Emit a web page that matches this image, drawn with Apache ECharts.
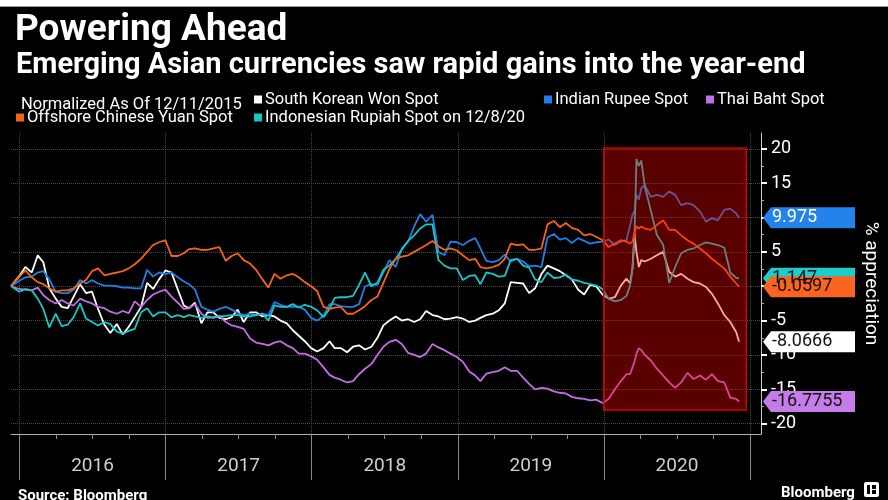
<!DOCTYPE html>
<html>
<head>
<meta charset="utf-8">
<script src="https://cdn.jsdelivr.net/npm/echarts@6/dist/echarts.min.js"></script>
<style>
html, body { margin: 0; padding: 0; background: #000; }
#chart { width: 888px; height: 500px; }
</style>
</head>
<body>
<div id="chart"></div>
<script>
// sample dates (semi-monthly, a few extra in March 2020)
var dates = ['2015-12-11',
	'2016-01-01','2016-01-16','2016-02-01','2016-02-16','2016-03-01','2016-03-16','2016-04-01','2016-04-16','2016-05-01','2016-05-16','2016-06-01','2016-06-16',
	'2016-07-01','2016-07-16','2016-08-01','2016-08-16','2016-09-01','2016-09-16','2016-10-01','2016-10-16','2016-11-01','2016-11-16','2016-12-01','2016-12-16',
	'2017-01-01','2017-01-16','2017-02-01','2017-02-16','2017-03-01','2017-03-16','2017-04-01','2017-04-16','2017-05-01','2017-05-16','2017-06-01','2017-06-16',
	'2017-07-01','2017-07-16','2017-08-01','2017-08-16','2017-09-01','2017-09-16','2017-10-01','2017-10-16','2017-11-01','2017-11-16','2017-12-01','2017-12-16',
	'2018-01-01','2018-01-16','2018-02-01','2018-02-16','2018-03-01','2018-03-16','2018-04-01','2018-04-16','2018-05-01','2018-05-16','2018-06-01','2018-06-16',
	'2018-07-01','2018-07-16','2018-08-01','2018-08-16','2018-09-01','2018-09-16','2018-10-01','2018-10-16','2018-11-01','2018-11-16','2018-12-01','2018-12-16',
	'2019-01-01','2019-01-16','2019-02-01','2019-02-16','2019-03-01','2019-03-16','2019-04-01','2019-04-16','2019-05-01','2019-05-16','2019-06-01','2019-06-16',
	'2019-07-01','2019-07-16','2019-08-01','2019-08-16','2019-09-01','2019-09-16','2019-10-01','2019-10-16','2019-11-01','2019-11-16','2019-12-01','2019-12-16',
	'2020-01-01','2020-01-16','2020-02-01','2020-02-16','2020-03-01','2020-03-10','2020-03-16','2020-03-21','2020-03-26','2020-04-01','2020-04-07','2020-04-16',
	'2020-05-01','2020-05-16','2020-06-01','2020-06-16','2020-07-01','2020-07-16','2020-08-01','2020-08-16','2020-09-01','2020-09-16','2020-10-01','2020-10-16',
	'2020-11-01','2020-11-16','2020-12-01','2020-12-08'];

var wonSpot = [0,
	1.5, 2.8, 2.0, 4.5, 3.5, -0.3, -1.8, -3.0, -3.2, -1.5, 0.3, -1.0, -0.8, -3.3, -5.6, -6.8, -5.5, -7.0, -5.9, -4.5, -3.0, 0.5, -0.4, 1.0,
	2.3, 2.0, -0.5, -2.8, -3.2, -2.4, -5.4, -3.8, -3.8, -4.6, -4.8, -4.5, -3.4, -5.2, -3.8, -3.8, -4.4, -4.2, -4.4, -5.0, -5.4, -6.4, -7.2, -8.0,
	-9.0, -9.5, -9.0, -8.0, -9.0, -9.0, -9.6, -8.8, -8.6, -9.2, -8.8, -7.5, -5.7, -5.0, -4.4, -5.0, -4.8, -5.2, -4.8, -3.6, -4.2, -4.4, -4.8, -4.7,
	-4.5, -4.7, -5.2, -5.0, -4.6, -4.2, -4.0, -3.5, -2.5, 0.6, 0.5, 0.4, -1.0, -0.3, 1.8, 3.0, 2.6, 2.2, 1.6, 1.0, -0.5, -1.2, 0.2, 0.0,
	-1.2, -1.8, -1.6, 0.1, 1.1, 0.4, 2.6, 7.7, 5.0, 2.8, 3.8, 3.6, 4.0, 4.5, 5.0, 2.1, 1.4, 1.8, 1.1, 0.6, 0.4, -0.1, -1.1, -2.5, -4.2, -5.2, -6.7, -8.0666];

var rupeeSpot = [0,
	0.8, 1.3, 1.4, 2.0, 2.2, 1.0, -0.8, -1.0, -1.0, -0.5, 0.9, 0.4, 0.9, 0.4, 0.1, 0.1, 0.0, -0.2, -0.2, -0.3, -0.3, 2.4, 1.4, 2.0,
	1.8, 2.0, 1.3, 0.7, 0.3, -0.5, -3.0, -3.4, -3.7, -3.3, -3.0, -3.4, -3.9, -4.2, -4.0, -4.2, -4.0, -4.2, -2.3, -2.7, -3.0, -3.0, -3.0, -3.4,
	-4.6, -5.0, -4.3, -2.6, -2.6, -2.9, -3.0, -3.0, -2.6, 0.0, 0.3, 0.2, 2.0, 3.8, 2.8, 5.5, 6.5, 8.7, 10.5, 9.4, 10.4, 5.0, 4.5, 6.5,
	6.4, 6.0, 6.6, 7.0, 5.5, 3.7, 3.5, 3.8, 4.6, 3.6, 4.0, 3.6, 2.9, 3.0, 2.8, 7.1, 7.6, 6.8, 7.0, 6.3, 7.0, 6.6, 6.2, 6.4,
	6.5, 6.8, 6.0, 6.5, 6.7, 8.9, 10.4, 10.9, 13.3, 12.6, 14.3, 14.7, 13.0, 13.3, 13.0, 13.8, 13.3, 11.8, 12.1, 11.8, 10.9, 9.4, 9.9, 9.6, 11.1, 11.3, 10.6, 9.975];

var bahtSpot = [0,
	-0.4, -0.5, -0.6, -0.2, -1.3, -2.0, -2.5, -2.0, -2.5, -2.8, -1.8, -2.2, -2.5, -3.0, -3.2, -3.7, -4.0, -3.6, -3.9, -2.2, -3.0, -2.0, -1.2, -0.8,
	-0.5, -1.5, -2.4, -3.3, -3.2, -2.6, -4.0, -4.6, -4.5, -4.3, -5.2, -5.7, -5.9, -6.2, -7.6, -8.2, -8.4, -8.6, -8.2, -8.0, -8.6, -9.0, -9.8, -9.8,
	-10.2, -10.7, -11.8, -12.9, -13.3, -13.6, -14.0, -13.8, -12.8, -12.0, -11.3, -10.0, -8.8, -8.1, -7.8, -8.4, -9.7, -10.0, -10.3, -9.8, -8.4, -8.9, -9.3, -9.8,
	-10.3, -11.0, -12.4, -13.0, -13.8, -12.7, -12.5, -12.3, -11.8, -12.3, -12.3, -13.3, -14.2, -15.0, -14.8, -14.9, -15.3, -15.5, -15.6, -16.1, -16.3, -16.4, -16.6, -16.5,
	-17.0, -16.4, -15.0, -13.8, -12.8, -12.8, -11.8, -11.0, -9.8, -9.0, -9.3, -10.0, -10.8, -12.0, -13.0, -14.0, -14.8, -14.0, -12.6, -13.5, -13.0, -13.6, -12.8, -13.8, -14.0, -16.2, -16.4, -16.7755];

var rupiahSpot = [0,
	-0.8, -0.4, -0.6, -1.8, -3.3, -6.0, -4.0, -5.8, -5.6, -4.5, -2.5, -4.7, -5.2, -5.7, -5.2, -5.5, -6.6, -6.9, -6.5, -6.2, -3.8, -3.2, -4.4, -3.8,
	-3.8, -4.5, -4.2, -4.5, -4.2, -4.4, -4.6, -4.4, -4.6, -4.4, -4.3, -4.2, -4.2, -4.4, -4.4, -4.2, -4.0, -5.0, -2.8, -3.0, -3.0, -2.6, -3.1, -2.7,
	-3.0, -3.5, -4.5, -3.3, -1.7, -1.6, -1.6, -1.4, 0.2, 2.0, 0.0, 0.5, 2.4, 3.0, 4.0, 5.3, 6.6, 7.4, 8.4, 9.0, 9.0, 3.8, 3.0, 2.6,
	2.6, 0.9, 1.5, 1.6, 0.3, 2.0, 1.8, 1.4, 1.5, 3.8, 4.0, 3.0, 2.7, 1.0, 0.6, 2.0, 1.2, 1.3, 1.7, 1.0, 0.8, 0.5, 0.3, 0.1,
	-0.4, -1.8, -2.2, -2.0, -1.4, 0.1, 2.5, 7.0, 18.5, 17.5, 18.3, 14.5, 11.0, 7.5, 6.0, 0.5, 2.8, 4.8, 5.3, 5.5, 6.0, 6.4, 6.2, 6.0, 5.6, 2.0, 1.2, 1.147];

var yuanSpot = [0,
	1.4, 2.3, 1.3, 0.6, 0.3, -0.3, -0.8, -0.6, -0.6, -0.3, 0.4, 0.9, 2.2, 2.6, 1.6, 1.8, 2.0, 2.2, 2.6, 3.2, 4.0, 5.0, 6.0, 6.4,
	6.7, 4.4, 4.4, 4.8, 5.4, 5.5, 5.3, 5.3, 5.5, 5.7, 3.7, 4.4, 4.8, 3.8, 3.3, 2.4, 1.0, -0.2, 1.8, 1.1, 1.6, 1.8, 1.3, 0.6,
	0.0, -0.7, -3.0, -3.3, -3.1, -3.0, -4.0, -4.0, -3.5, -2.9, -2.0, -1.5, 0.5, 2.5, 4.0, 4.3, 4.5, 5.0, 5.5, 6.0, 6.6, 5.8, 5.3, 5.5,
	5.2, 4.5, 3.8, 4.0, 2.8, 2.6, 2.8, 3.1, 4.0, 6.2, 6.0, 6.1, 5.3, 5.3, 5.5, 9.0, 9.5, 8.6, 9.2, 8.5, 8.2, 7.4, 7.6, 7.2,
	6.7, 5.7, 6.2, 6.7, 6.5, 6.2, 6.5, 7.7, 8.7, 8.4, 8.7, 8.4, 8.2, 8.9, 9.6, 8.2, 8.2, 7.4, 6.7, 6.2, 5.5, 4.8, 4.0, 3.3, 2.6, 1.4, 0.4, -0.0597];

var years = ['2016', '2017', '2018', '2019', '2020'];
var quarters = [];
for (var q = 0; q < years.length * 4; q++) quarters.push(years[Math.floor(q / 4)] + 'Q' + (q % 4 + 1));
var yTicks = [-20, -15, -10, -5, 0, 5, 10, 15, 20];
var xMin = '2015-12-11', xMax = '2021-02-01';
var highlight = [['2020-01-04', -18], ['2020-12-26', 20.1]];

var FONT = 'Roboto, "Liberation Sans", sans-serif';

var seriesDefs = [
	{name: 'South Korean Won Spot', values: wonSpot, color: '#ffffff', tag: '#ffffff', text: '#111'},
	{name: 'Indian Rupee Spot', values: rupeeSpot, color: '#1f7fe6', tag: '#2483ea', text: '#fff'},
	{name: 'Thai Baht Spot', values: bahtSpot, color: '#c46ee6', tag: '#c47ce8', text: '#111'},
	{name: 'Indonesian Rupiah Spot on 12/8/20', values: rupiahSpot, color: '#19c6c6', tag: '#1fcccc', text: '#111'},
	{name: 'Offshore Chinese Yuan Spot', values: yuanSpot, color: '#f5631a', tag: '#fb641e', text: '#111'}
];

function buildSeries() {
	var out = [];
	seriesDefs.forEach(function (d) {
		var data = [];
		for (var i = 0; i < dates.length; i++) data.push([dates[i], d.values[i]]);
		var last = d.values[d.values.length - 1];
		out.push({
			name: d.name,
			type: 'line',
			xAxisIndex: 0,
			yAxisIndex: 0,
			data: data,
			showSymbol: false,
			animation: false,
			lineStyle: {color: d.color, width: 1.8},
			itemStyle: {color: d.color},
			markPoint: {
				silent: true,
				animation: false,
				symbol: 'path://M0,10 L8,0 L92,0 L92,20 L8,20 Z',
				symbolSize: [92, 21],
				symbolKeepAspect: false,
				symbolOffset: [48, 0],
				itemStyle: {color: d.tag},
				label: {
					show: true,
					position: 'insideLeft',
					distance: 9,
					color: d.text,
					fontSize: 18,
					fontFamily: FONT,
					formatter: '{c}'
				},
				data: [{coord: [xMax, last], value: last}]
			}
		});
	});
	// the shaded 2020 box sits above the lines
	out.push({
		name: 'box',
		type: 'line',
		data: [],
		markArea: {
			z: 10,
			silent: true,
			animation: false,
			itemStyle: {color: 'rgba(255,0,0,0.35)', borderColor: '#d00000', borderWidth: 1.5},
			data: [[{coord: highlight[0]}, {coord: highlight[1]}]]
		}
	});
	return out;
}

function legendAt(name, left, top) {
	return {
		data: [name], left: left, top: top, padding: 0,
		icon: 'rect', itemWidth: 8, itemHeight: 8, selectedMode: false,
		textStyle: {color: '#fff', fontSize: 16.5, fontFamily: FONT, padding: [0, 0, 0, -2]}
	};
}

var myChart = echarts.init(document.getElementById('chart'), null, {renderer: 'canvas'});
var option = {
	backgroundColor: '#000',
	animation: false,
	title: [
		{text: 'Powering Ahead', left: 10, top: 7, textStyle: {color: '#fff', fontSize: 37, fontWeight: 'bold', fontFamily: FONT}},
		{text: 'Emerging Asian currencies saw rapid gains into the year-end', left: 11, top: 46, textStyle: {color: '#fff', fontSize: 29, fontWeight: 'bold', fontFamily: FONT}},
		{text: 'Normalized As Of 12/11/2015', left: 16, top: 91, textStyle: {color: '#fff', fontSize: 16.5, fontWeight: 'normal', fontFamily: FONT}},
		{text: 'Source: Bloomberg', left: 13, top: 484, textStyle: {color: '#fff', fontSize: 15, fontWeight: 'bold', fontFamily: FONT}},
		{text: 'Bloomberg', left: 776, top: 481, textStyle: {color: '#fff', fontSize: 15, fontWeight: 'bold', fontFamily: FONT}}
	],
	legend: [
		legendAt('South Korean Won Spot', 254, 91),
		legendAt('Indian Rupee Spot', 544, 91),
		legendAt('Thai Baht Spot', 706, 91),
		legendAt('Offshore Chinese Yuan Spot', 16, 109),
		legendAt('Indonesian Rupiah Spot on 12/8/20', 254, 109)
	],
	grid: [
		{left: 11, right: 126, top: 133, bottom: 66},
		{left: 19.5, right: 138, top: 133, bottom: 66}
	],
	xAxis: [
		{
			type: 'time', gridIndex: 0, min: xMin, max: xMax,
			axisLine: {show: true, onZero: false, lineStyle: {color: '#b0b0b0', width: 1}},
			axisTick: {show: false}, axisLabel: {show: false}, splitLine: {show: false}
		},
		{
			type: 'category', gridIndex: 1, position: 'bottom', data: years, boundaryGap: true,
			axisLine: {show: false, onZero: false},
			axisTick: {show: true, interval: 0, length: 46, lineStyle: {color: '#8a8a8a'}},
			axisLabel: {show: true, interval: 0, margin: 23, color: '#d0d0d0', fontSize: 19, fontFamily: FONT},
			splitLine: {show: true, interval: 0, lineStyle: {color: '#4a4a4a', type: 'dotted'}}
		},
		{
			type: 'category', gridIndex: 1, position: 'bottom', data: quarters, boundaryGap: true,
			axisLine: {show: false, onZero: false},
			axisTick: {show: true, interval: 0, length: 5, lineStyle: {color: '#8a8a8a'}},
			axisLabel: {show: false}, splitLine: {show: false}
		}
	],
	yAxis: [
		{
			type: 'value', gridIndex: 0, position: 'right', min: -21.5, max: 22.3, splitNumber: 9,
			name: '% appreciation', nameLocation: 'middle', nameRotate: -90, nameGap: 100,
			nameTextStyle: {color: '#fff', fontSize: 19, fontFamily: FONT},
			axisLine: {show: true, lineStyle: {color: '#c8c8c8', width: 1}},
			axisTick: {show: true, length: 6, customValues: yTicks, lineStyle: {color: '#fff', width: 2}},
			minorTick: {show: true, splitNumber: 2, length: 3, lineStyle: {color: '#aaa'}},
			axisLabel: {show: true, customValues: yTicks, margin: 10, color: '#fff', fontSize: 18, fontFamily: FONT},
			splitLine: {show: true, lineStyle: {color: '#4a4a4a', type: 'dotted'}}
		},
		{type: 'value', gridIndex: 1, show: false}
	],
	graphic: [
		{type: 'rect', left: 0, top: 0, shape: {width: 888, height: 6}, style: {fill: '#fff'}},
		{type: 'rect', left: 0, top: 6, shape: {width: 888, height: 1}, style: {fill: '#9a9a9a'}},
		{type: 'rect', left: 864, top: 482, shape: {width: 15, height: 15, r: 2}, style: {fill: '#fff'}},
		{type: 'rect', left: 867, top: 485, shape: {width: 3, height: 9}, style: {fill: '#000'}},
		{type: 'rect', left: 872, top: 485, shape: {width: 4, height: 4}, style: {fill: '#000'}},
		{type: 'rect', left: 872, top: 490, shape: {width: 4, height: 4}, style: {fill: '#000'}}
	],
	series: buildSeries()
};
myChart.setOption(option);
</script>
</body>
</html>
